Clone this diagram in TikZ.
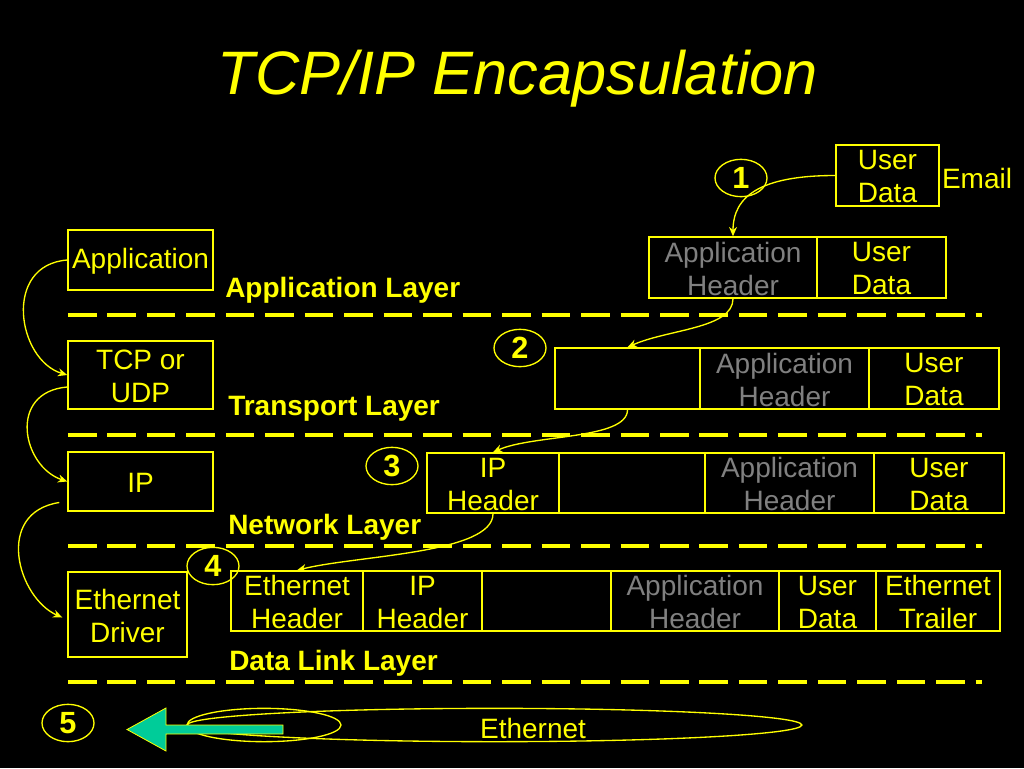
\documentclass[tikz,border=0pt]{standalone}
\usepackage{fontspec}
\setmainfont{Liberation Sans}
\usetikzlibrary{shapes.geometric,arrows.meta,calc}
\definecolor{ylw}{RGB}{255,255,0}
\definecolor{hdrgray}{RGB}{128,128,128}
\definecolor{grn}{RGB}{0,204,153}
\newcommand\cellbox[7]{%
  \node[cell, minimum width={(#4-#2)*0.75pt}, minimum height={(#5-#3)*0.75pt}] (#1) at ({(#2+#4)/2},{(#3+#5)/2}) {};
  \if\relax\detokenize{#6}\relax\else
  \node[celltext, text=#7] (#1t) at ($(#1.center)+(0,1.2)$) {#6};
  \fi}
\tikzset{
  cell/.style={draw=ylw, line width=1.1pt, inner sep=0pt},
  celltext/.style={inner sep=0pt, align=center, font=\fontsize{21}{25}\selectfont},
  layerlbl/.style={text=ylw, anchor=west, inner sep=0pt, font=\fontsize{21}{25}\selectfont\bfseries},
  sepline/.style={draw=ylw, line width=3pt, dash pattern=on 21.4pt off 8.2pt},
  numell/.style={ellipse, draw=ylw, line width=1pt, inner sep=0pt, text=ylw,
    minimum width=39pt, minimum height=28pt, font=\fontsize{23}{24}\selectfont\bfseries},
  flow/.style={draw=ylw, line width=1pt, -{Stealth[length=7pt,width=6pt]}},
  wire/.style={ellipse, draw=ylw, line width=1pt, inner sep=0pt}
}
\begin{document}
\begin{tikzpicture}[x=0.75pt, y=-0.75pt]
\useasboundingbox (0,0) rectangle (1024,768);
\fill[black] (0,0) rectangle (1024,768);

% title
\node[text=ylw, inner sep=0pt, font=\fontsize{46}{50}\selectfont\itshape] (title) at (518,79) {TCP/IP Encapsulation};

% left stack
\cellbox{app}{68}{230}{213}{290}{Application}{ylw}
\cellbox{tcp}{68}{341}{213}{409}{TCP or\\UDP}{ylw}
\cellbox{ipl}{68}{452}{213}{511}{IP}{ylw}
\cellbox{drv}{68}{572}{187}{657}{Ethernet\\Driver}{ylw}

% layer labels
\node[layerlbl] (lapp) at (225,290) {Application Layer};
\node[layerlbl] (ltr) at (228,409) {Transport Layer};
\node[layerlbl] (lnet) at (228,527) {Network Layer};
\node[layerlbl] (ldl) at (229,663) {Data Link Layer};

% separators
\draw[sepline] (68,315) -- (982,315);
\draw[sepline] (68,435) -- (982,435);
\draw[sepline] (68,546) -- (982,546);
\draw[sepline] (68,682) -- (982,682);

% user data
\cellbox{ud0}{836}{145}{939}{206}{User\\Data}{ylw}
\node[text=ylw, inner sep=0pt, font=\fontsize{21}{25}\selectfont] (email) at (977,178) {Email};
\node[numell] (n1) at (741,178) {1};

% application row
\cellbox{ah1}{649}{237}{817}{298}{Application\\Header}{hdrgray}
\cellbox{ud1}{817}{237}{946}{298}{User\\Data}{ylw}

% transport row
\node[numell] (n2) at (520,348) {2};
\cellbox{th2}{555}{348}{700}{409}{}{ylw}
\cellbox{ah2}{700}{348}{869}{409}{Application\\Header}{hdrgray}
\cellbox{ud2}{869}{348}{999}{409}{User\\Data}{ylw}

% network row
\node[numell] (n3) at (392,466) {3};
\cellbox{ip3}{427}{453}{559}{513}{IP\\Header}{ylw}
\cellbox{th3}{559}{453}{705}{513}{}{ylw}
\cellbox{ah3}{705}{453}{874}{513}{Application\\Header}{hdrgray}
\cellbox{ud3}{874}{453}{1004}{513}{User\\Data}{ylw}

% data link row
\node[numell] (n4) at (213,566) {4};
\cellbox{eh4}{231}{571}{363}{631}{Ethernet\\Header}{ylw}
\cellbox{ip4}{363}{571}{482}{631}{IP\\Header}{ylw}
\cellbox{th4}{482}{571}{611}{631}{}{ylw}
\cellbox{ah4}{611}{571}{779}{631}{Application\\Header}{hdrgray}
\cellbox{ud4}{779}{571}{876}{631}{User\\Data}{ylw}
\cellbox{et4}{876}{571}{1000}{631}{Ethernet\\Trailer}{ylw}

% encapsulation arrows
\draw[flow] (ud0.west) .. controls +(-75,0) and +(0,-40) .. (ah1.north);
\draw[flow] (ah1.south) .. controls +(0,30) and +(40,-18) .. (th2.north);
\draw[flow] (th2.south) .. controls +(0,30) and +(40,-18) .. (ip3.north);
\draw[flow] (ip3.south) .. controls +(0,40) and +(60,-15) .. (eh4.north);

% left stack arrows
\draw[flow] (app.west) .. controls +(-65,5) and +(-50,-15) .. (tcp.west);
\draw[flow] ($(tcp.west)+(0,12)$) .. controls +(-60,5) and +(-45,-15) .. (ipl.west);
\draw[flow] ($(ipl.west)+(-8,21)$) .. controls +(-65,10) and +(-45,-20) .. ($(drv.west)+(-5,3)$);

% physical layer
\node[numell] (n5) at (68,723) {5};
\node[wire, minimum width=461pt, minimum height=25pt] (wire) at (494.5,725) {};
\node[wire, minimum width=115.5pt, minimum height=25pt] (wirel) at (264,725) {};
\node[text=ylw, inner sep=0pt, font=\fontsize{21}{25}\selectfont] (eth) at (533,728) {Ethernet};
\filldraw[fill=grn, draw=ylw, line width=0.6pt]
  (127,729.5) -- (166,708) -- (166,725) -- (283,725) -- (283,734) -- (166,734) -- (166,751) -- cycle;
\end{tikzpicture}
\end{document}
